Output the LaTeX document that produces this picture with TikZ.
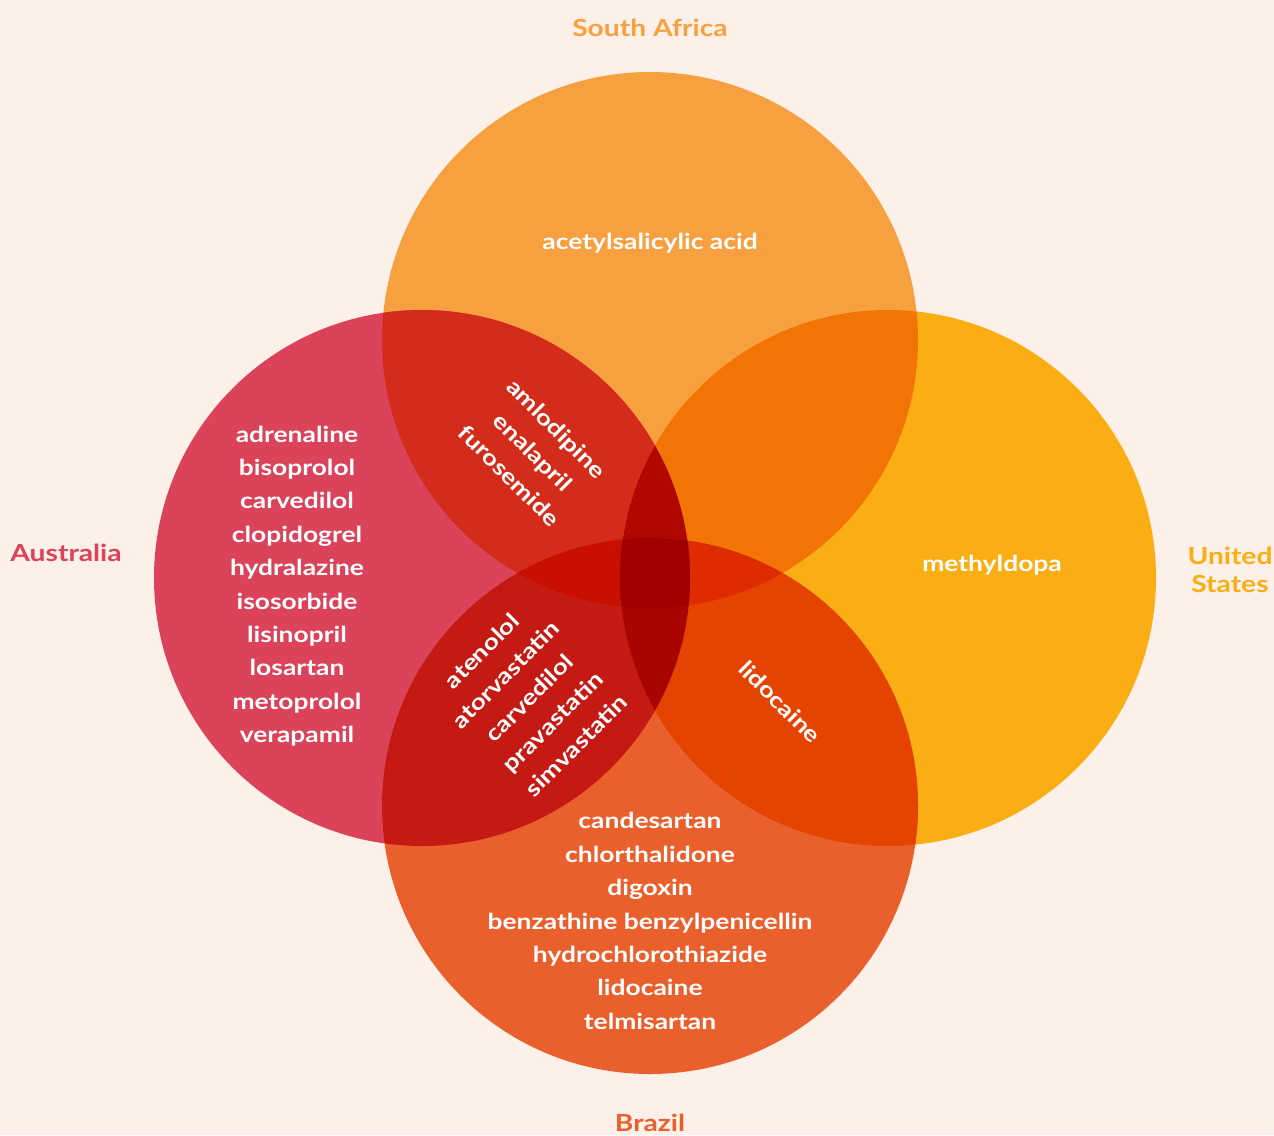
\documentclass[tikz,border=0pt]{standalone}
\usepackage{fontspec}
\setmainfont{Lato}[FakeStretch=1.2]
\definecolor{bg}{HTML}{FDF0E8}
\definecolor{cSAc}{HTML}{F6A040}
\definecolor{cAUc}{HTML}{DA435A}
\definecolor{cUSc}{HTML}{FAAE14}
\definecolor{cBRc}{HTML}{EA602D}
\definecolor{cSAAU}{HTML}{D32C1B}
\definecolor{cSAUS}{HTML}{F27405}
\definecolor{cAUBR}{HTML}{C51A13}
\definecolor{cUSBR}{HTML}{E54400}
\definecolor{cSAAUUS}{HTML}{B00800}
\definecolor{cSAAUBR}{HTML}{C80F00}
\definecolor{cSAUSBR}{HTML}{DE2B00}
\definecolor{cAUUSBR}{HTML}{A80500}
\definecolor{cALL}{HTML}{A00000}
\def\pSA{(650,340) circle[radius=268pt]}
\def\pAU{(422,578) circle[radius=268pt]}
\def\pUS{(888,578) circle[radius=268pt]}
\def\pBR{(650,806) circle[radius=268pt]}
\tikzset{
  lbl/.style={font=\fontsize{23.5}{28.5}\selectfont\bfseries, align=center, inner sep=0pt},
  item/.style={text=white, font=\fontsize{22}{33.4}\selectfont\bfseries, align=center, inner sep=0pt},
}
\begin{document}
\begin{tikzpicture}[x=1pt,y=-1pt]
\fill[bg] (0,0) rectangle (1274,1135);
\useasboundingbox (0,0) rectangle (1274,1135);
% single circles
\fill[cSAc] \pSA;
\fill[cAUc] \pAU;
\fill[cUSc] \pUS;
\fill[cBRc] \pBR;
% pairs
\begin{scope}\clip \pSA; \fill[cSAAU] \pAU; \end{scope}
\begin{scope}\clip \pSA; \fill[cSAUS] \pUS; \end{scope}
\begin{scope}\clip \pAU; \fill[cAUBR] \pBR; \end{scope}
\begin{scope}\clip \pUS; \fill[cUSBR] \pBR; \end{scope}
% triples
\begin{scope}\clip \pSA; \clip \pAU; \fill[cSAAUUS] \pUS; \end{scope}
\begin{scope}\clip \pSA; \clip \pAU; \fill[cSAAUBR] \pBR; \end{scope}
\begin{scope}\clip \pSA; \clip \pUS; \fill[cSAUSBR] \pBR; \end{scope}
\begin{scope}\clip \pAU; \clip \pUS; \fill[cAUUSBR] \pBR; \end{scope}
% all four
\begin{scope}\clip \pSA; \clip \pAU; \clip \pUS; \fill[cALL] \pBR; \end{scope}
% set labels
\node[lbl, text=cSAc] (tSA) at (650,28) {South Africa};
\node[lbl, text=cAUc] (tAU) at (66,553) {Australia};
\node[lbl, text=cUSc] (tUS) at (1230,570) {United\\States};
\node[lbl, text=cBRc] (tBR) at (650,1123) {Brazil};
% contents
\node[item] (sa) at (650,243) {acetylsalicylic acid};
\node[item] (us) at (992,565) {methyldopa};
\node[item] (au) at (297,586) {adrenaline\\bisoprolol\\carvedilol\\clopidogrel\\hydralazine\\isosorbide\\lisinopril\\losartan\\metoprolol\\verapamil};
\node[item] (br) at (650,921) {candesartan\\chlorthalidone\\digoxin\\benzathine benzylpenicellin\\hydrochlorothiazide\\lidocaine\\telmisartan};
\node[item, rotate=-45] (saau) at (533,452) {amlodipine\\enalapril\\furosemide};
\node[item, rotate=45] (aubr) at (529,698) {atenolol\\atorvastatin\\carvedilol\\pravastatin\\simvastatin};
\node[item, rotate=-45] (usbr) at (780,702) {lidocaine};
\end{tikzpicture}
\end{document}
